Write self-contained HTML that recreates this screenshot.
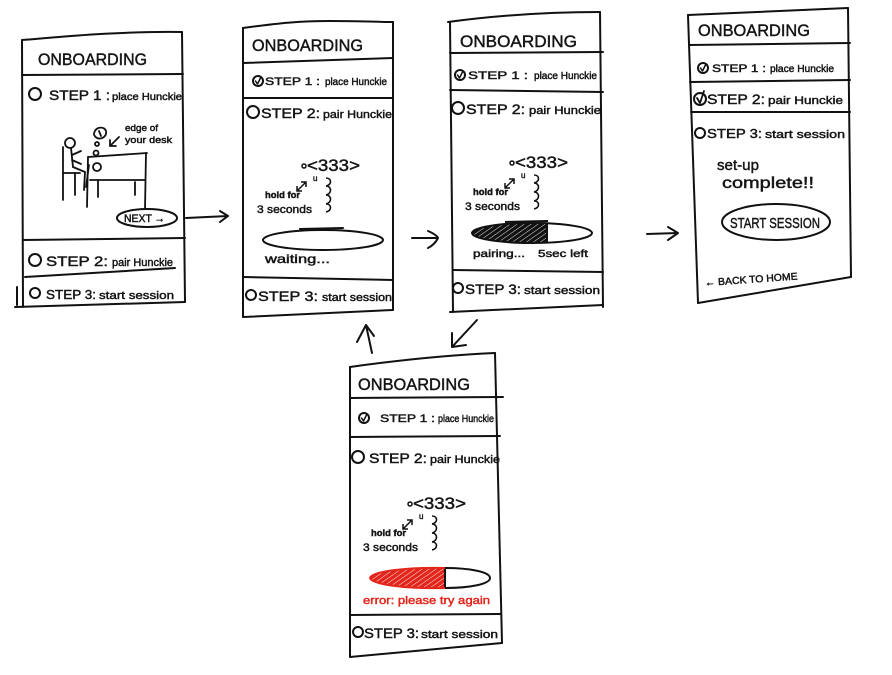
<!DOCTYPE html>
<html><head><meta charset="utf-8">
<style>
html,body{margin:0;padding:0;background:#fff;}
svg{display:block;}
text{font-family:"Liberation Sans","DejaVu Sans",sans-serif;fill:#151515;stroke:#151515;stroke-width:0.45;}
</style></head><body>
<svg width="892" height="675" viewBox="0 0 892 675" xmlns="http://www.w3.org/2000/svg">
<defs>
<pattern id="hb" patternUnits="userSpaceOnUse" width="4" height="4" patternTransform="rotate(55)">
<rect width="4" height="4" fill="#111"/><line x1="0" y1="0" x2="0" y2="4" stroke="#fff" stroke-width="0.9"/>
</pattern>
<pattern id="hr" patternUnits="userSpaceOnUse" width="4" height="4" patternTransform="rotate(55)">
<rect width="4" height="4" fill="#e3261c"/><line x1="0" y1="0" x2="0" y2="4" stroke="#fff" stroke-width="0.9"/>
</pattern>
</defs>

<g fill="none" stroke="#111" stroke-width="2" stroke-linecap="round" stroke-linejoin="round">
<!-- PANEL 1 -->
<path d="M22,40 C60,37 120,31 182,32"/>
<path d="M22,40 L23,307"/>
<path d="M182,32 L185,302"/>
<path d="M15,307 L185,302"/>
<path d="M17,287 L17,305"/>
<path d="M22,75 L183,74"/>
<path d="M23,240 L185,238"/>
<path d="M25,277 L175,268"/>
<circle cx="35" cy="94" r="6"/>
<circle cx="35" cy="260" r="6"/>
<circle cx="35" cy="293" r="5"/>
<!-- figure -->
<g stroke-width="1.8">
<circle cx="70" cy="143" r="5"/>
<path d="M71,148 L73,167"/>
<path d="M72,155 L81,151 M72,160 L81,164"/>
<path d="M73,167 L85,172 L84,190"/>
<path d="M63,147 L63,200"/>
<path d="M63,173 L80,173"/>
<path d="M75,173 L75,195"/>
<path d="M95,131 C97,127 104,126 106,131 C107,136 102,140 97,138 C94,136 93,134 95,131 Z"/>
<path d="M99,131 L101,136"/>
<circle cx="97" cy="144" r="2"/>
<circle cx="96" cy="153" r="2.5"/>
<circle cx="97" cy="167" r="4"/>
<path d="M89,165 L86,187"/>
<path d="M88,157 L147,153"/>
<path d="M146,153 L145,209"/>
<path d="M88,157 L87,207"/>
<path d="M90,180 L145,180"/>
<path d="M98,180 L98,197"/>
<path d="M135,182 L135,195"/>
<path d="M119,137 L110,146 M110,140 L110,146 L116,146"/>
</g>
<ellipse cx="147" cy="218" rx="30" ry="9"/>
<path d="M186,218 L228,216 M220,211 L228,216 L220,222"/>

<!-- PANEL 2 -->
<path d="M243,28 C280,23 300,21 330,21 C360,21 380,22 393,22"/>
<path d="M243,28 L243,317"/>
<path d="M393,22 L393,310"/>
<path d="M243,317 L393,310"/>
<path d="M243,63 L393,58"/>
<path d="M243,98 L393,98"/>
<path d="M243,277 L393,280"/>
<circle cx="258" cy="81" r="5"/>
<path d="M255.5,81 L257.5,84 L261,77" stroke-width="1.5"/>
<circle cx="253" cy="112" r="6"/>
<circle cx="251" cy="295" r="5"/>
<ellipse cx="323" cy="240" rx="60" ry="10"/>
<path d="M300,229 L343,228"/>

<!-- PANEL 3 -->
<path d="M448,22 C500,15 550,12 600,12"/>
<path d="M450,22 L453,312"/>
<path d="M600,12 L603,307"/>
<path d="M450,312 L603,305"/>
<path d="M450,53 L603,52"/>
<path d="M450,90 L603,92"/>
<path d="M453,270 L603,272"/>
<circle cx="460" cy="75" r="5"/>
<path d="M457.5,75 L459.5,78 L463,71" stroke-width="1.5"/>
<circle cx="458" cy="108" r="6"/>
<circle cx="458" cy="288" r="5"/>
<path d="M412,238 L438,238 M428,231 C435,234 438,237 438,238 C436,242 432,246 428,248"/>

<!-- PANEL 4 -->
<path d="M688,15 L848,8"/>
<path d="M688,15 L698,303"/>
<path d="M848,8 L851,277"/>
<path d="M698,303 L851,277"/>
<path d="M689,45 L850,43"/>
<path d="M690,82 L850,80"/>
<path d="M691,112 L850,112"/>
<circle cx="703" cy="68" r="5"/>
<path d="M700.5,68 L702.5,71 L706,64" stroke-width="1.5"/>
<circle cx="700" cy="99" r="6"/>
<path d="M697,98 L700,103 L704,91" stroke-width="1.8"/>
<circle cx="700" cy="133" r="5"/>
<ellipse cx="776" cy="222" rx="54" ry="18"/>
<path d="M647,234 L678,233 M668,227 L678,233 L668,240"/>

<!-- PANEL 5 -->
<path d="M350,367 C400,360 450,355 495,353"/>
<path d="M350,367 L350,657"/>
<path d="M495,353 L502,643"/>
<path d="M350,657 L502,643"/>
<path d="M350,398 L503,397"/>
<path d="M350,437 L500,436"/>
<path d="M350,615 L500,614"/>
<circle cx="364" cy="418" r="5"/>
<path d="M361.5,418 L363.5,421 L367,414" stroke-width="1.5"/>
<circle cx="358" cy="457" r="6"/>
<circle cx="358" cy="632" r="5"/>
<!-- arrows between -->
<path d="M372,353 L366,325 M357,342 L366,325 L374,336"/>
<path d="M477,320 L452,347 M452,333 L452,347 L466,345"/>
</g>

<!-- progress fills -->
<clipPath id="c3"><rect x="470" y="220" width="77" height="30"/></clipPath>
<ellipse cx="532" cy="233" rx="60" ry="10" fill="url(#hb)" clip-path="url(#c3)"/>
<g fill="none" stroke="#111" stroke-width="2">
<ellipse cx="532" cy="233" rx="60" ry="10"/>
<path d="M547,223 L547,243"/>
<path d="M505,222 L548,221"/>
</g>
<clipPath id="c5"><rect x="368" y="565" width="77" height="30"/></clipPath>
<ellipse cx="430" cy="578" rx="60" ry="10" fill="url(#hr)" clip-path="url(#c5)"/>
<g fill="none" stroke="#111" stroke-width="2">
<path d="M445,568 C470,568 490,572 490,578 C490,584 470,588 445,588"/>
<path d="M445,568 L445,588"/>
</g>
<path d="M445,568 C410,567 372,571 370,578 C372,585 410,589 445,588" fill="none" stroke="#e3261c" stroke-width="2"/>

<!-- illustrations (pair) -->
<g>
<circle cx="304" cy="166" r="2" fill="none" stroke="#111" stroke-width="1.5"/>
<text x="307" y="171" font-size="17" textLength="53" lengthAdjust="spacingAndGlyphs">&lt;333&gt;</text>
<text x="313" y="181" font-size="8">u</text>
<path d="M297,191 L306,182 M301,182 L306,182 L306,187 M297,186 L297,191 L302,191" fill="none" stroke="#111" stroke-width="1.5"/>
<path d="M326,178 c6,0 6,7 0,8 c6,0 6,8 0,9 c6,0 6,8 0,9 c6,0 6,7 0,8" fill="none" stroke="#111" stroke-width="1.6"/>
<text x="265" y="198" font-size="9" font-weight="bold" textLength="35" lengthAdjust="spacingAndGlyphs">hold for</text>
<text x="257" y="213" font-size="11" textLength="55" lengthAdjust="spacingAndGlyphs">3 seconds</text>
</g>
<g transform="translate(208,-3)">
<circle cx="304" cy="166" r="2" fill="none" stroke="#111" stroke-width="1.5"/>
<text x="307" y="171" font-size="17" textLength="53" lengthAdjust="spacingAndGlyphs">&lt;333&gt;</text>
<text x="313" y="181" font-size="8">u</text>
<path d="M297,191 L306,182 M301,182 L306,182 L306,187 M297,186 L297,191 L302,191" fill="none" stroke="#111" stroke-width="1.5"/>
<path d="M326,178 c6,0 6,7 0,8 c6,0 6,8 0,9 c6,0 6,8 0,9 c6,0 6,7 0,8" fill="none" stroke="#111" stroke-width="1.6"/>
<text x="265" y="198" font-size="9" font-weight="bold" textLength="35" lengthAdjust="spacingAndGlyphs">hold for</text>
<text x="257" y="213" font-size="11" textLength="55" lengthAdjust="spacingAndGlyphs">3 seconds</text>
</g>
<g transform="translate(106,338)">
<circle cx="304" cy="166" r="2" fill="none" stroke="#111" stroke-width="1.5"/>
<text x="307" y="171" font-size="17" textLength="53" lengthAdjust="spacingAndGlyphs">&lt;333&gt;</text>
<text x="313" y="181" font-size="8">u</text>
<path d="M297,191 L306,182 M301,182 L306,182 L306,187 M297,186 L297,191 L302,191" fill="none" stroke="#111" stroke-width="1.5"/>
<path d="M326,178 c6,0 6,7 0,8 c6,0 6,8 0,9 c6,0 6,8 0,9 c6,0 6,7 0,8" fill="none" stroke="#111" stroke-width="1.6"/>
<text x="265" y="198" font-size="9" font-weight="bold" textLength="35" lengthAdjust="spacingAndGlyphs">hold for</text>
<text x="257" y="213" font-size="11" textLength="55" lengthAdjust="spacingAndGlyphs">3 seconds</text>
</g>

<!-- PANEL 1 text -->
<text x="38" y="65" font-size="17" textLength="109" lengthAdjust="spacingAndGlyphs">ONBOARDING</text>
<text x="49" y="100" font-size="14" textLength="61" lengthAdjust="spacingAndGlyphs">STEP 1 :</text>
<text x="112" y="100" font-size="10" textLength="70" lengthAdjust="spacingAndGlyphs">place Hunckie</text>
<text x="125" y="131" font-size="9" textLength="33" lengthAdjust="spacingAndGlyphs">edge of</text>
<text x="125" y="143" font-size="9" textLength="47" lengthAdjust="spacingAndGlyphs">your desk</text>
<text x="124" y="222" font-size="11" textLength="41" lengthAdjust="spacingAndGlyphs">NEXT →</text>
<text x="46" y="266" font-size="14" textLength="62" lengthAdjust="spacingAndGlyphs">STEP 2:</text>
<text x="112" y="266" font-size="11" textLength="61" lengthAdjust="spacingAndGlyphs">pair Hunckie</text>
<text x="46" y="299" font-size="13" textLength="50" lengthAdjust="spacingAndGlyphs">STEP 3:</text>
<text x="99" y="299" font-size="11" textLength="75" lengthAdjust="spacingAndGlyphs">start session</text>

<!-- PANEL 2 text -->
<text x="252" y="51" font-size="17" textLength="111" lengthAdjust="spacingAndGlyphs">ONBOARDING</text>
<text x="265" y="85" font-size="11" textLength="55" lengthAdjust="spacingAndGlyphs">STEP 1 :</text>
<text x="325" y="85" font-size="10" textLength="62" lengthAdjust="spacingAndGlyphs">place Hunckie</text>
<text x="261" y="118" font-size="14" textLength="59" lengthAdjust="spacingAndGlyphs">STEP 2:</text>
<text x="323" y="118" font-size="11" textLength="69" lengthAdjust="spacingAndGlyphs">pair Hunckie</text>
<text x="265" y="263" font-size="12" textLength="65" lengthAdjust="spacingAndGlyphs">waiting...</text>
<text x="258" y="301" font-size="14" textLength="60" lengthAdjust="spacingAndGlyphs">STEP 3:</text>
<text x="322" y="301" font-size="11" textLength="70" lengthAdjust="spacingAndGlyphs">start session</text>

<!-- PANEL 3 text -->
<text x="460" y="47" font-size="17" textLength="117" lengthAdjust="spacingAndGlyphs">ONBOARDING</text>
<text x="468" y="79" font-size="11" textLength="60" lengthAdjust="spacingAndGlyphs">STEP 1 :</text>
<text x="534" y="79" font-size="10" textLength="63" lengthAdjust="spacingAndGlyphs">place Hunckie</text>
<text x="466" y="114" font-size="14" textLength="59" lengthAdjust="spacingAndGlyphs">STEP 2:</text>
<text x="529" y="114" font-size="11" textLength="72" lengthAdjust="spacingAndGlyphs">pair Hunckie</text>
<text x="473" y="257" font-size="10" textLength="52" lengthAdjust="spacingAndGlyphs">pairing...</text>
<text x="538" y="257" font-size="10" textLength="50" lengthAdjust="spacingAndGlyphs">5sec left</text>
<text x="465" y="294" font-size="14" textLength="56" lengthAdjust="spacingAndGlyphs">STEP 3:</text>
<text x="524" y="294" font-size="11" textLength="76" lengthAdjust="spacingAndGlyphs">start session</text>

<!-- PANEL 4 text -->
<text x="698" y="36" font-size="17" textLength="112" lengthAdjust="spacingAndGlyphs">ONBOARDING</text>
<text x="712" y="72" font-size="11" textLength="54" lengthAdjust="spacingAndGlyphs">STEP 1 :</text>
<text x="770" y="72" font-size="10" textLength="64" lengthAdjust="spacingAndGlyphs">place Hunckie</text>
<text x="707" y="104" font-size="14" textLength="58" lengthAdjust="spacingAndGlyphs">STEP 2:</text>
<text x="768" y="104" font-size="11" textLength="75" lengthAdjust="spacingAndGlyphs">pair Hunckie</text>
<text x="707" y="138" font-size="13" textLength="55" lengthAdjust="spacingAndGlyphs">STEP 3:</text>
<text x="765" y="138" font-size="11" textLength="80" lengthAdjust="spacingAndGlyphs">start session</text>
<text x="717" y="170" font-size="15" textLength="42" lengthAdjust="spacingAndGlyphs">set-up</text>
<text x="722" y="188" font-size="16" textLength="92" lengthAdjust="spacingAndGlyphs">complete!!</text>
<text x="730" y="228" font-size="15" textLength="90" lengthAdjust="spacingAndGlyphs">START SESSION</text>
<text x="705" y="286" font-size="10" textLength="93" lengthAdjust="spacingAndGlyphs" transform="rotate(-4 705 286)">← BACK TO HOME</text>

<!-- PANEL 5 text -->
<text x="358" y="390" font-size="17" textLength="112" lengthAdjust="spacingAndGlyphs">ONBOARDING</text>
<text x="380" y="422" font-size="11" textLength="55" lengthAdjust="spacingAndGlyphs">STEP 1 :</text>
<text x="438" y="422" font-size="10" textLength="56" lengthAdjust="spacingAndGlyphs">place Hunckie</text>
<text x="369" y="463" font-size="14" textLength="58" lengthAdjust="spacingAndGlyphs">STEP 2:</text>
<text x="430" y="463" font-size="11" textLength="70" lengthAdjust="spacingAndGlyphs">pair Hunckie</text>
<text x="363" y="604" font-size="11" textLength="127" lengthAdjust="spacingAndGlyphs" style="fill:#e3261c;stroke:#e3261c">error: please try again</text>
<text x="364" y="638" font-size="14" textLength="55" lengthAdjust="spacingAndGlyphs">STEP 3:</text>
<text x="421" y="638" font-size="11" textLength="77" lengthAdjust="spacingAndGlyphs">start session</text>
</svg>
</body></html>
